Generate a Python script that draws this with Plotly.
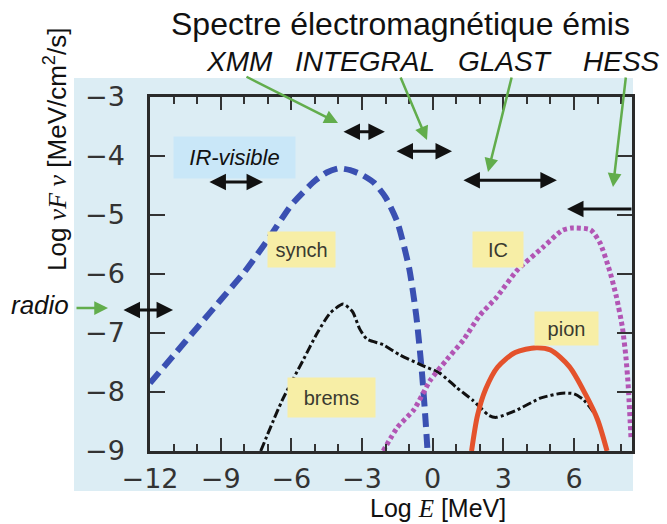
import plotly.graph_objects as go

# ---------------- data (log E [MeV], log nuFnu) ----------------
synch_x = [-12, -11, -10, -9, -8, -7, -6, -5, -4.5, -4, -3.5, -3, -2.5, -2, -1.5, -1, -0.7, -0.45, -0.3, -0.22]
synch_y = [-7.85, -7.38, -6.91, -6.44, -5.97, -5.42, -4.83, -4.42, -4.28, -4.21, -4.24, -4.32, -4.45, -4.7, -5.12, -5.9, -6.7, -7.7, -8.5, -9.0]

brems_x = [-7.3, -6.4, -5.5, -4.9, -4.35, -3.8, -3.4, -3.1, -2.8, -2.1, -1.4, -0.5, 0.3, 1.0, 1.7, 2.4, 2.7, 3.5, 4.6, 5.5, 6.0, 6.4, 6.9]
brems_y = [-9.0, -8.15, -7.46, -7.0, -6.66, -6.51, -6.64, -6.93, -7.10, -7.20, -7.37, -7.54, -7.68, -7.92, -8.14, -8.40, -8.43, -8.32, -8.10, -8.02, -8.03, -8.13, -8.38]

ic_x = [-2.1, -1.5, -0.8, -0.1, 0.6, 1.3, 2.0, 2.7, 3.6, 4.7, 5.5, 5.9, 6.7, 7.1, 7.5, 7.8, 8.05, 8.2, 8.3, 8.42]
ic_y = [-9.0, -8.6, -8.3, -7.8, -7.45, -7.12, -6.7, -6.4, -5.93, -5.54, -5.26, -5.22, -5.25, -5.47, -5.93, -6.39, -6.9, -7.4, -7.9, -8.8]

pion_x = [1.65, 1.9, 2.25, 2.75, 3.5, 4.4, 5.0, 5.8, 6.5, 7.0, 7.4]
pion_y = [-9.0, -8.4, -7.95, -7.58, -7.33, -7.25, -7.29, -7.57, -8.05, -8.47, -9.0]

# instrument energy bands (double arrows)
band_names = ["radio", "IR-visible", "XMM", "INTEGRAL", "GLAST", "HESS"]
band_lo = [-13.19, -9.54, -3.85, -1.60, 1.24, 5.70]
band_hi = [-11.02, -7.20, -2.03, 0.82, 5.27, 8.5]
band_y = [-6.61, -4.44, -3.59, -3.92, -4.41, -4.90]

# component labels
comp_names = ["synch", "IC", "pion", "brems"]
comp_x = [-5.55, 2.77, 5.68, -4.30]
comp_y = [-5.58, -5.59, -6.92, -8.09]
comp_w = [67, 50, 63, 87]
comp_h = [35, 35, 33, 39]

instr_names = ["XMM", "INTEGRAL", "GLAST", "HESS"]

x_ticks = [-12, -9, -6, -3, 0, 3, 6]
y_ticks = [-9, -8, -7, -6, -5, -4, -3]

# ---------------- layout geometry (pixels) ----------------
W, H = 667, 524
L, R, T, B = 150, 35, 97, 73
PW, PH = W - L - R, H - T - B


def px(x):
    return (x - L) / PW


def py(y):
    return (H - B - y) / PH


fig = go.Figure()

fig.add_trace(go.Scatter(x=synch_x, y=synch_y, mode="lines",
                         line=dict(color="#3a50b2", width=6, dash="14px,7px", shape="spline", smoothing=0.6)))
fig.add_trace(go.Scatter(x=brems_x, y=brems_y, mode="lines",
                         line=dict(color="#111111", width=3, dash="9px,3px,3px,3px", shape="spline", smoothing=0.6)))
fig.add_trace(go.Scatter(x=ic_x, y=ic_y, mode="lines",
                         line=dict(color="#b255b4", width=5, dash="4px,3px", shape="spline", smoothing=0.6)))
fig.add_trace(go.Scatter(x=pion_x, y=pion_y, mode="lines",
                         line=dict(color="#e4522c", width=5, shape="spline", smoothing=0.8)))

annotations = []

# background panel
shapes = [dict(type="rect", xref="paper", yref="paper", layer="below",
               x0=px(74), x1=px(633), y0=py(491), y1=py(78),
               fillcolor="#dcedf4", line=dict(width=0))]

# component labels
for name, cx, cy, w, h in zip(comp_names, comp_x, comp_y, comp_w, comp_h):
    annotations.append(dict(x=cx, y=cy, xref="x", yref="y", text=name, showarrow=False,
                            bgcolor="#f7eea6", width=w, height=h, borderpad=0,
                            font=dict(family="Liberation Sans, Arial", size=20, color="#3a3a30")))

annotations.append(dict(x=-8.41, y=-4.03, xref="x", yref="y", text="<i>IR-visible</i>", showarrow=False,
                        bgcolor="#c9e7f8", width=121, height=41, borderpad=0,
                        font=dict(family="Liberation Sans, Arial", size=22, color="#111111")))

# instrument band double arrows
for name, lo, hi, yy in zip(band_names, band_lo, band_hi, band_y):
    side = "end" if name == "HESS" else "end+start"
    annotations.append(dict(x=lo if name == "HESS" else hi, y=yy, ax=hi if name == "HESS" else lo, ay=yy,
                            xref="x", yref="y", axref="x", ayref="y", text="", showarrow=True,
                            arrowhead=2, startarrowhead=2, arrowside=side, arrowsize=1.1, startarrowsize=1.1,
                            arrowwidth=3, arrowcolor="#111111"))

# green pointer arrows (head pixel, tail pixel)
green_head = [(338, 123), (427, 140), (488, 172), (613, 187), (108, 308)]
green_tail = [(245, 76), (400, 76), (512, 76), (626, 76), (75, 308)]
for (hx, hy), (tx, ty) in zip(green_head, green_tail):
    annotations.append(dict(x=px(hx), y=py(hy), xref="paper", yref="paper",
                            ax=tx - hx, ay=ty - hy, text="", showarrow=True,
                            arrowhead=2, arrowsize=1.1, arrowwidth=2.5, arrowcolor="#62ad4c"))


def text_ann(cx, cy, text, size, angle=0, italic=False):
    return dict(x=px(cx), y=py(cy), xref="paper", yref="paper", showarrow=False,
                xanchor="center", yanchor="middle", textangle=angle,
                text=("<i>" + text + "</i>") if italic else text,
                font=dict(family="Liberation Sans, Arial", size=size, color="#111111"))


# titles
annotations.append(text_ann(400, 24, "Spectre électromagnétique émis", 32))
instr_cx = [239, 365, 505, 621]
for name, cx in zip(instr_names, instr_cx):
    annotations.append(text_ann(cx, 62, name, 28, italic=True))
annotations.append(text_ann(40, 305, "radio", 26, italic=True))

serif = "font-family:'Liberation Serif','Times New Roman',serif"
annotations.append(text_ann(55, 150, "Log <span style=\"" + serif + "\"><i>νF ν</i></span> [MeV/cm<sup>2</sup>/s]",
                            26, angle=-90))
annotations.append(text_ann(438, 508, "Log <span style=\"" + serif + "\"><i>E</i></span> [MeV]", 25))

axis_font = dict(family="DejaVu Sans, sans-serif", size=27, color="#333333")

fig.update_layout(
    width=W, height=H,
    margin=dict(l=L, r=R, t=T, b=B, autoexpand=False),
    paper_bgcolor="white", plot_bgcolor="rgba(0,0,0,0)",
    showlegend=False,
    shapes=shapes,
    annotations=annotations,
    xaxis=dict(range=[-12, 8.46], tickvals=x_ticks, ticktext=[str(v).replace("-", "−") for v in x_ticks],
               ticks="inside", ticklen=13, tickwidth=2, tickcolor="#333333",
               minor=dict(dtick=1, tick0=-12, ticks="inside", ticklen=7, tickwidth=2, tickcolor="#333333"),
               showline=True, linewidth=2.5, linecolor="#2a2a2a", mirror="ticks",
               showgrid=False, zeroline=False, tickfont=axis_font, ticklabelstandoff=2, automargin=False),
    yaxis=dict(range=[-9, -3], tickvals=y_ticks, ticktext=[str(v).replace("-", "−") for v in y_ticks],
               ticks="inside", ticklen=15, tickwidth=2, tickcolor="#333333",
               showline=True, linewidth=2.5, linecolor="#2a2a2a", mirror="ticks",
               showgrid=False, zeroline=False, tickfont=axis_font, ticklabelstandoff=17, automargin=False),
)

fig.write_html("out.html", config={"displayModeBar": False},
               post_script="document.body.style.margin='0';document.body.style.overflow='hidden';")
